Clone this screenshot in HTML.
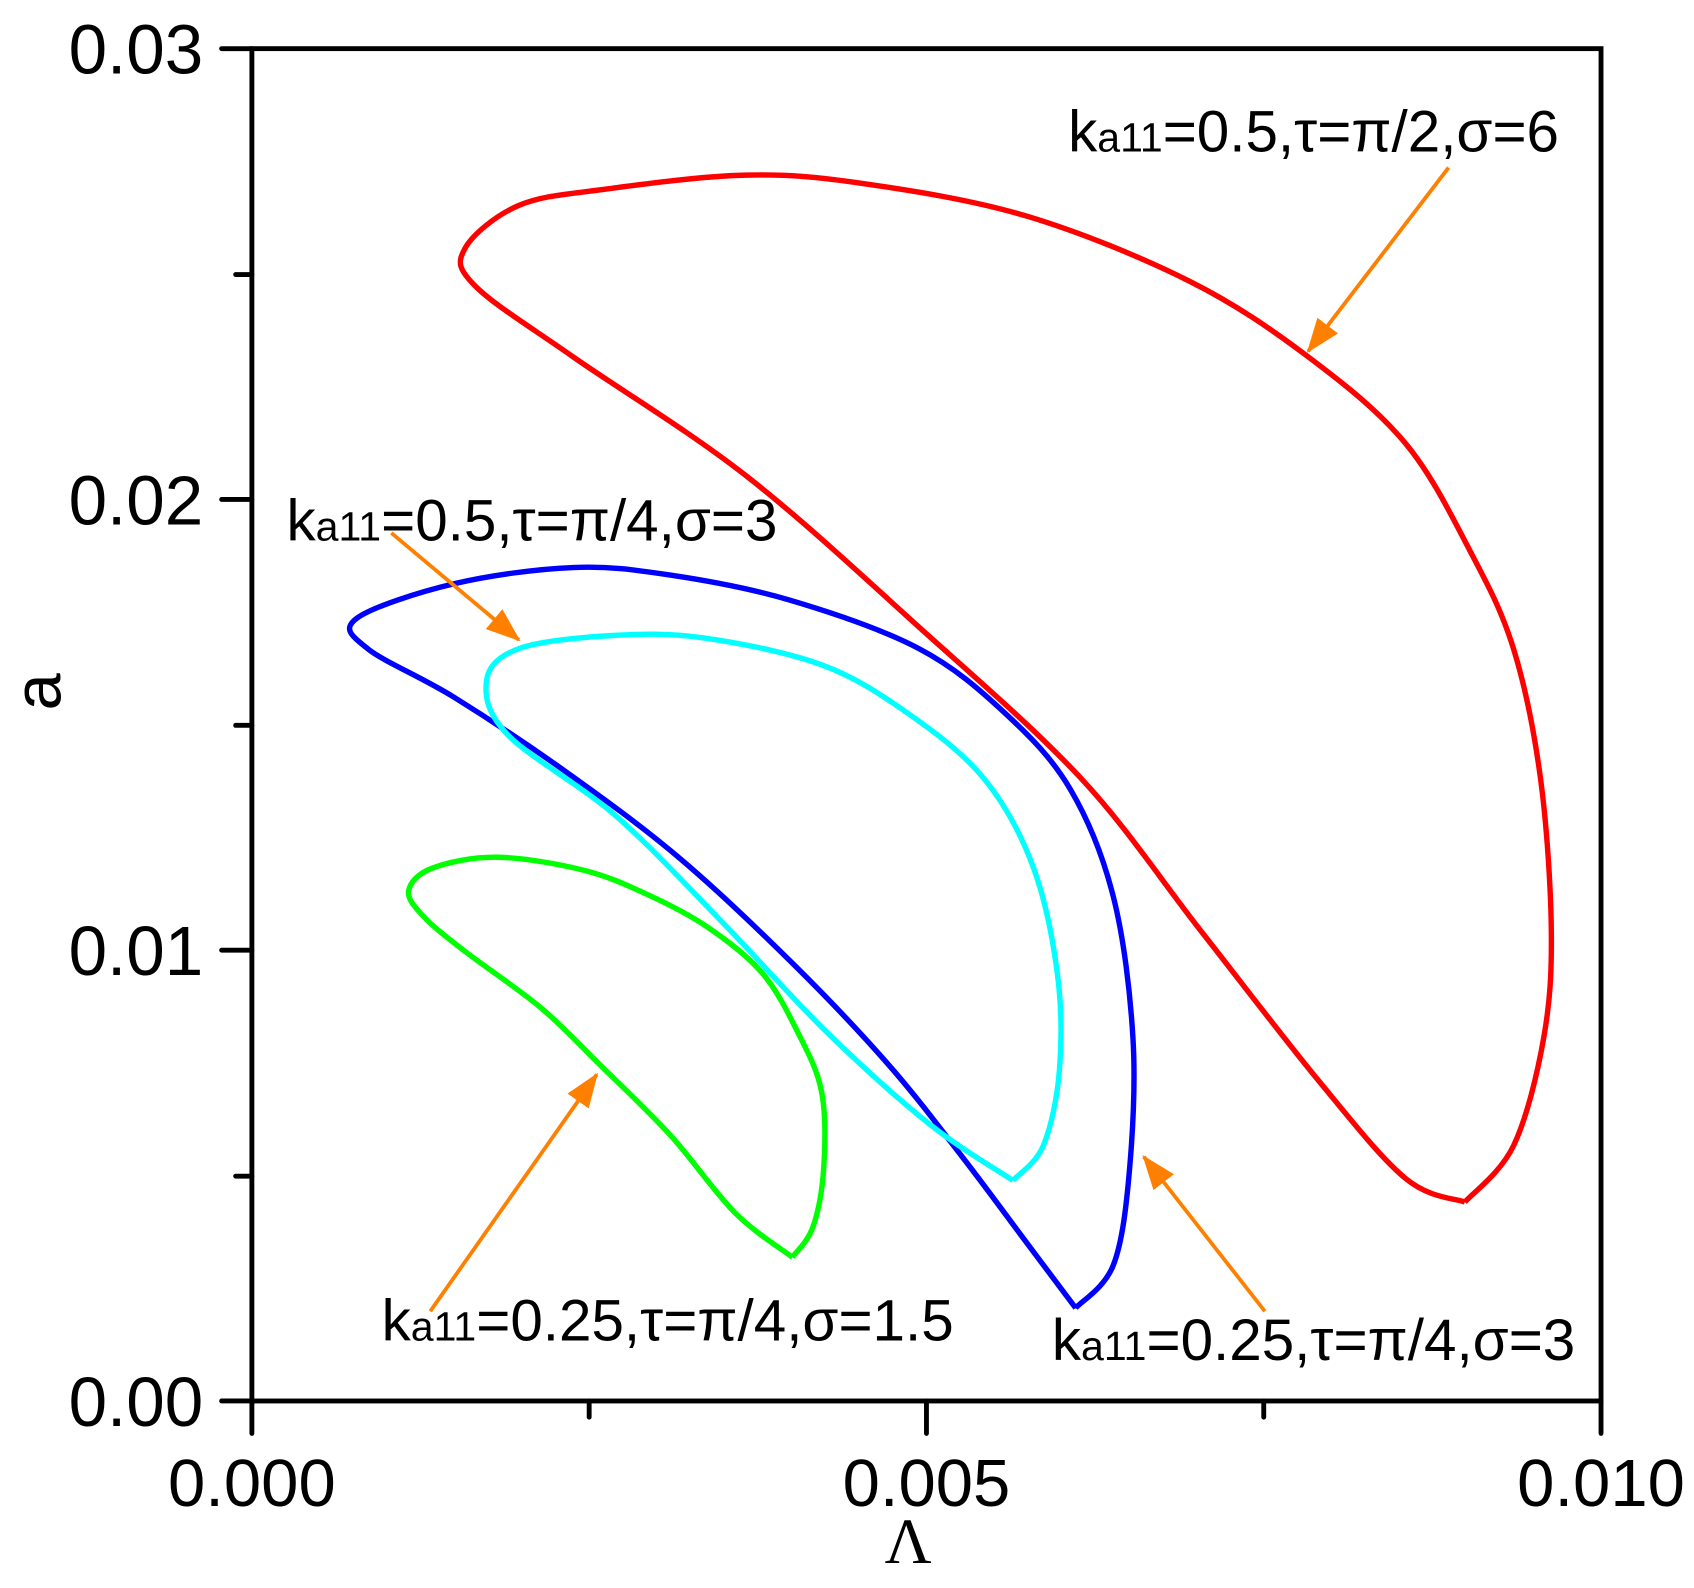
<!DOCTYPE html>
<html><head><meta charset="utf-8"><style>
html,body{margin:0;padding:0;background:#fff;overflow:hidden}
svg{display:block}
text{font-family:"Liberation Sans",sans-serif;fill:#000}
</style></head><body>
<svg id="s" width="1694" height="1588" viewBox="0 0 1567 1469" preserveAspectRatio="none" xmlns="http://www.w3.org/2000/svg">
<defs><marker id="ah" markerWidth="32" markerHeight="24" refX="30" refY="12" orient="auto" markerUnits="userSpaceOnUse" viewBox="0 0 32 24"><path d="M0,0 L32,12 L0,24 z" fill="#ff8000"/></marker></defs>
<g stroke="#000" stroke-width="4.5" fill="none" stroke-linecap="round">
<rect x="233" y="45" width="1248" height="1251"/>
<line x1="205" y1="45" x2="233" y2="45"/><line x1="205" y1="462" x2="233" y2="462"/><line x1="205" y1="879" x2="233" y2="879"/><line x1="205" y1="1296" x2="233" y2="1296"/>
<line x1="218" y1="254" x2="233" y2="254"/><line x1="218" y1="671" x2="233" y2="671"/><line x1="218" y1="1088" x2="233" y2="1088"/>
<line x1="233" y1="1296" x2="233" y2="1326"/><line x1="857" y1="1296" x2="857" y2="1326"/><line x1="1481" y1="1296" x2="1481" y2="1326"/>
<line x1="545" y1="1296" x2="545" y2="1311"/><line x1="1169" y1="1296" x2="1169" y2="1311"/>
</g>
<g font-size="64" text-anchor="end">
<text x="188" y="68">0.03</text><text x="188" y="485">0.02</text><text x="188" y="902">0.01</text><text x="188" y="1319">0.00</text>
</g>
<g font-size="62" text-anchor="middle">
<text x="233" y="1393">0.000</text><text x="857" y="1393">0.005</text><text x="1481" y="1393">0.010</text>
</g>
<text x="840" y="1446" font-size="60" text-anchor="middle" style="font-family:'Liberation Serif',serif">Λ</text>
<text x="0" y="0" font-size="62" text-anchor="middle" transform="translate(56,640) rotate(-90)">a</text>
<g id="curves" fill="none" stroke-width="5" stroke-linejoin="round"></g>
<g stroke="#ff8000" stroke-width="3.5" marker-end="url(#ah)">
<line x1="1340" y1="155" x2="1210" y2="325"/>
<line x1="362" y1="493" x2="480" y2="592"/>
<line x1="398" y1="1213" x2="552" y2="994"/>
<line x1="1170" y1="1213" x2="1058" y2="1070"/>
</g>
<g font-size="54">
<text x="988" y="140">k<tspan font-size="38">a11</tspan>=0.5,τ=π/2,σ=6</text>
<text x="265" y="500">k<tspan font-size="38">a11</tspan>=0.5,τ=π/4,σ=3</text>
<text x="353" y="1240">k<tspan font-size="38">a11</tspan>=0.25,τ=π/4,σ=1.5</text>
<text x="973" y="1258">k<tspan font-size="38">a11</tspan>=0.25,τ=π/4,σ=3</text>
</g>
</svg>
<script>
var C=[
["#ff0000",[[1355,1112],[1400,1060],[1428,960],[1435,860],[1425,720],[1400,600],[1360,510],[1300,410],[1210,330],[1100,260],[950,200],[800,170],[690,162],[560,175],[480,190],[430,230],[440,265],[530,330],[690,440],[850,580],[1000,720],[1110,860],[1220,1000],[1300,1090],[1355,1112]]],
["#0000ff",[[995,1210],[1030,1170],[1045,1080],[1048,960],[1030,830],[990,730],[930,660],[850,600],[730,555],[620,532],[530,525],[420,540],[330,572],[340,600],[420,645],[525,715],[630,795],[735,893],[822,985],[890,1070],[950,1150],[995,1210]]],
["#00ffff",[[937,1092],[965,1060],[980,990],[978,900],[955,800],[910,720],[840,660],[760,615],[650,590],[565,588],[480,600],[450,630],[470,680],[570,755],[670,855],[765,955],[860,1040],[937,1092]]],
["#00ff00",[[733,1163],[752,1135],[762,1080],[760,1010],[738,955],[705,900],[655,858],[600,828],[540,805],[460,793],[400,803],[378,824],[392,848],[430,880],[500,932],[555,985],[620,1050],[680,1122],[733,1163]]]
];
var g=document.getElementById('curves');
C.forEach(function(c){var p=c[1],d="M"+p[0][0]+","+p[0][1];
for(var i=0;i<p.length-1;i++){var a=p[Math.max(i-1,0)],b=p[i],e=p[i+1],f=p[Math.min(i+2,p.length-1)];
d+=" C"+(b[0]+(e[0]-a[0])/6)+","+(b[1]+(e[1]-a[1])/6)+" "+(e[0]-(f[0]-b[0])/6)+","+(e[1]-(f[1]-b[1])/6)+" "+e[0]+","+e[1];}
var el=document.createElementNS("http://www.w3.org/2000/svg","path");el.setAttribute("d",d);el.setAttribute("stroke",c[0]);g.appendChild(el);});
</script>
</body></html>
